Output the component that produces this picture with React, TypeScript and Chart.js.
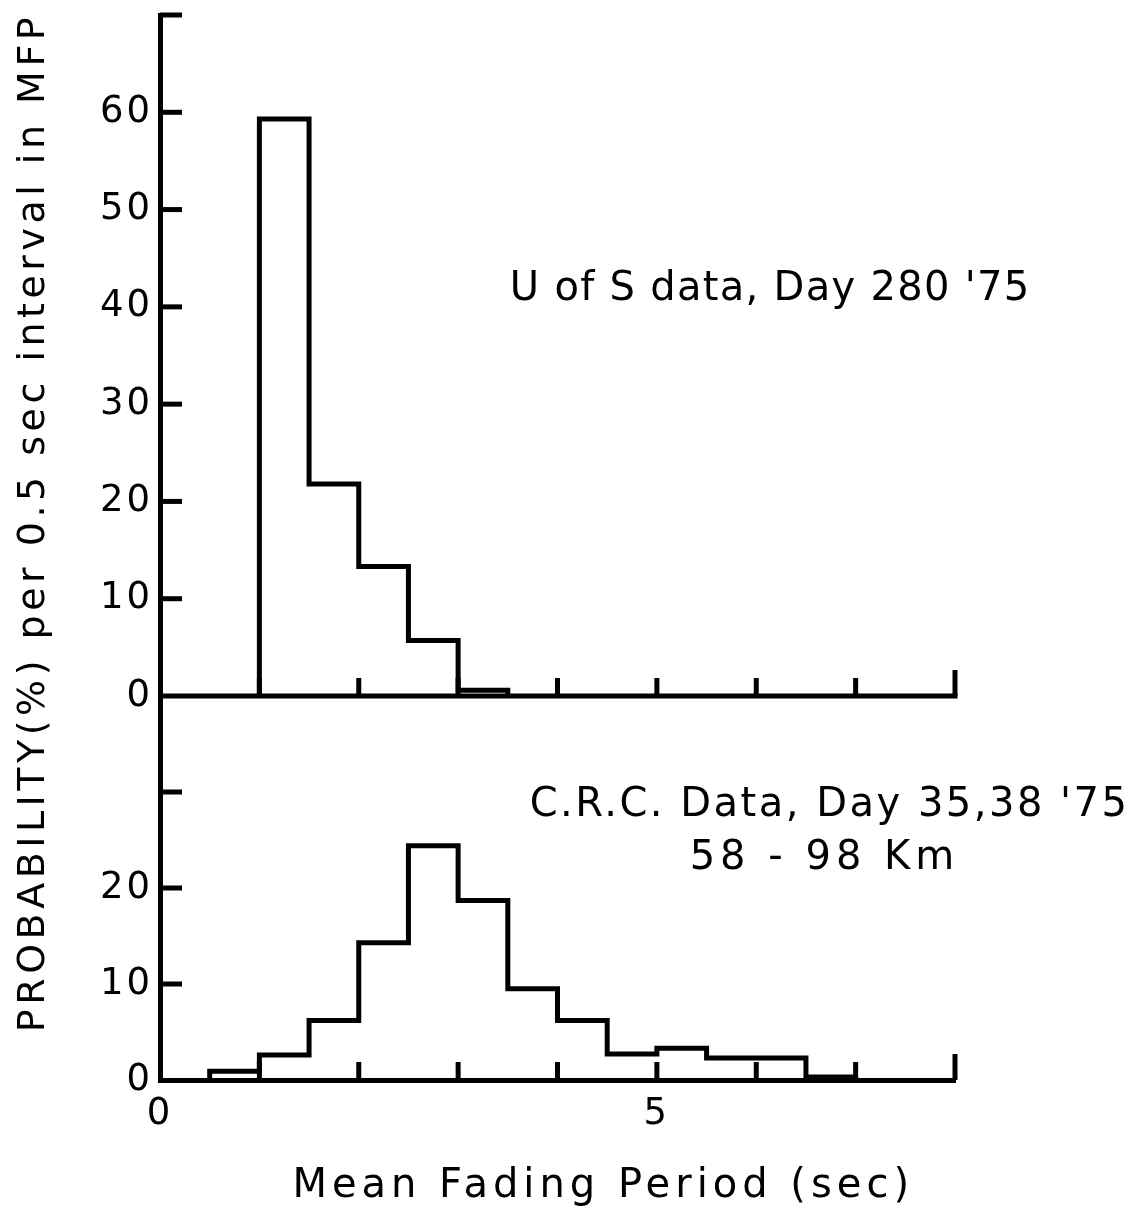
import React, { useEffect, useRef } from 'react';
import { Chart, registerables } from 'chart.js';

Chart.register(...registerables);

// ---- data ----
const binWidth = 0.5;
const topBinStarts = [1, 1.5, 2, 2.5, 3];
const topValues = [59.3, 21.8, 13.3, 5.7, 0.6];
const bottomBinStarts = [0.5, 1, 1.5, 2, 2.5, 3, 3.5, 4, 4.5, 5, 5.5, 6, 6.5];
const bottomValues = [0.9, 2.6, 6.2, 14.3, 24.4, 18.7, 9.5, 6.2, 2.7, 3.3, 2.3, 2.3, 0.3];

const xMin = 0;
const xMax = 8;
const xLabelledTicks = [0, 5];
const topMax = 70;
const bottomMax = 40;
const topLabelledTicks = [0, 10, 20, 30, 40, 50, 60];
const bottomLabelledTicks = [0, 10, 20];

const topCaption = "U of S data, Day 280 '75";
const bottomCaption = ["C.R.C. Data, Day 35,38 '75", '58 - 98 Km'];
const xTitle = 'Mean Fading Period (sec)';
const yTitle = 'PROBABILITY(%) per 0.5 sec interval in MFP';

const FONT = '"DejaVu Sans", sans-serif';

function histogramOutline(starts: number[], values: number[]) {
  const pts: { x: number; y: number }[] = [{ x: starts[0], y: 0 }];
  starts.forEach((s, i) => pts.push({ x: s, y: values[i] }));
  pts.push({ x: starts[starts.length - 1] + binWidth, y: 0 });
  return pts;
}

const decorPlugin = {
  id: 'decor',
  beforeDraw(chart: any) {
    chart.ctx.letterSpacing = '3px';
  },
  afterDraw(chart: any) {
    const { ctx, chartArea, scales } = chart;
    const xs = scales.x;
    const yt = scales.yTop;
    const yb = scales.yBottom;
    const line = (x1: number, y1: number, x2: number, y2: number) => {
      ctx.beginPath();
      ctx.moveTo(x1, y1);
      ctx.lineTo(x2, y2);
      ctx.stroke();
    };
    ctx.save();
    ctx.strokeStyle = '#000';
    ctx.lineWidth = 5;
    ctx.lineCap = 'butt';
    const y0Top = yt.getPixelForValue(0);
    const y0Bot = yb.getPixelForValue(0);
    // upper panel baseline
    line(chartArea.left, y0Top, xs.getPixelForValue(xMax) + 2.5, y0Top);
    // inward y tick marks
    for (const t of yt.ticks) {
      if (t.value > 0) {
        const py = yt.getPixelForValue(t.value);
        line(chartArea.left, py, chartArea.left + 22, py);
      }
    }
    for (const t of yb.ticks) {
      if (t.value > 0 && t.value < bottomMax) {
        const py = yb.getPixelForValue(t.value);
        line(chartArea.left, py, chartArea.left + 22, py);
      }
    }
    // upward x tick marks on both baselines
    for (const base of [y0Top, y0Bot]) {
      for (const t of xs.ticks) {
        if (t.value > xMin) {
          const px = xs.getPixelForValue(t.value);
          const len = t.value === xMax ? 26 : 18;
          line(px, base, px, base - len);
        }
      }
    }
    // texts
    ctx.fillStyle = '#000';
    ctx.textAlign = 'left';
    ctx.textBaseline = 'alphabetic';
    ctx.font = '40px ' + FONT;
    ctx.letterSpacing = '1.3px';
    ctx.fillText(topCaption, xs.getPixelForValue(3.52), yt.getPixelForValue(40.7));
    ctx.letterSpacing = '2.5px';
    ctx.fillText(bottomCaption[0], xs.getPixelForValue(3.72), yb.getPixelForValue(27.5));
    ctx.letterSpacing = '5px';
    ctx.fillText(bottomCaption[1], xs.getPixelForValue(5.33), yb.getPixelForValue(22));
    // x title
    ctx.textAlign = 'center';
    ctx.font = '40px ' + FONT;
    ctx.letterSpacing = '5px';
    ctx.fillText(xTitle, xs.getPixelForValue(4.46), chartArea.bottom + 117);
    // y title
    ctx.save();
    ctx.translate(44, (chartArea.top + chartArea.bottom) / 2 - 25);
    ctx.rotate(-Math.PI / 2);
    ctx.font = '38px ' + FONT;
    ctx.letterSpacing = '4.5px';
    ctx.textAlign = 'center';
    ctx.fillText(yTitle, 0, 0);
    ctx.restore();
    ctx.restore();
    ctx.letterSpacing = '0px';
  },
};

const zeroPadding = (s: any) => {
  s.paddingTop = 0;
  s.paddingBottom = 0;
  s.paddingLeft = 0;
  s.paddingRight = 0;
};

export default function App() {
  const canvasRef = useRef<HTMLCanvasElement | null>(null);

  useEffect(() => {
    if (!canvasRef.current) return;
    const tickFont = { size: 37, family: FONT };
    const yTicks = (labelled: number[]) => ({
      stepSize: 10,
      autoSkip: false,
      color: '#000',
      font: tickFont,
      padding: 7,
      callback: (v: any) => (labelled.includes(Number(v)) ? String(v) : ''),
    });
    const chart = new Chart(canvasRef.current, {
      type: 'line',
      data: {
        datasets: [
          {
            label: 'U of S',
            data: histogramOutline(topBinStarts, topValues),
            xAxisID: 'x',
            yAxisID: 'yTop',
            stepped: 'before',
            borderColor: '#000',
            borderWidth: 5,
            pointRadius: 0,
            fill: false,
            borderJoinStyle: 'miter',
          },
          {
            label: 'C.R.C.',
            data: histogramOutline(bottomBinStarts, bottomValues),
            xAxisID: 'x',
            yAxisID: 'yBottom',
            stepped: 'before',
            borderColor: '#000',
            borderWidth: 5,
            pointRadius: 0,
            fill: false,
            borderJoinStyle: 'miter',
          },
        ],
      },
      options: {
        animation: false,
        responsive: true,
        maintainAspectRatio: false,
        devicePixelRatio: 1,
        layout: { padding: { left: 0, top: 15, right: 190, bottom: 0 } },
        plugins: { legend: { display: false }, tooltip: { enabled: false } },
        scales: {
          x: {
            type: 'linear',
            position: 'bottom',
            min: xMin,
            max: xMax,
            grid: { display: false, drawTicks: false },
            border: { display: true, width: 5, color: '#000' },
            ticks: {
              stepSize: 1,
              autoSkip: false,
              color: '#000',
              font: tickFont,
              padding: 12,
              maxRotation: 0,
              callback: (v: any) => (xLabelledTicks.includes(Number(v)) ? String(v) : ''),
            },
            afterFit: (s: any) => {
              s.height = 131;
              zeroPadding(s);
            },
          },
          yBottom: {
            type: 'linear',
            position: 'left',
            stack: 'panels',
            stackWeight: 384,
            min: 0,
            max: bottomMax,
            grid: { display: false, drawTicks: false },
            border: { display: true, width: 5, color: '#000' },
            ticks: yTicks(bottomLabelledTicks),
            afterFit: (s: any) => {
              s.width = 160;
              zeroPadding(s);
            },
          },
          yTop: {
            type: 'linear',
            position: 'left',
            stack: 'panels',
            stackWeight: 681,
            min: 0,
            max: topMax,
            grid: { display: false, drawTicks: false },
            border: { display: true, width: 5, color: '#000' },
            ticks: yTicks(topLabelledTicks),
            afterFit: (s: any) => {
              s.width = 160;
              zeroPadding(s);
            },
          },
        },
      } as any,
      plugins: [decorPlugin],
    });
    return () => chart.destroy();
  }, []);

  return (
    <div style={{ position: 'absolute', left: 0, top: 0, width: 1145, height: 1211, background: '#fff' }}>
      <canvas ref={canvasRef} />
    </div>
  );
}
